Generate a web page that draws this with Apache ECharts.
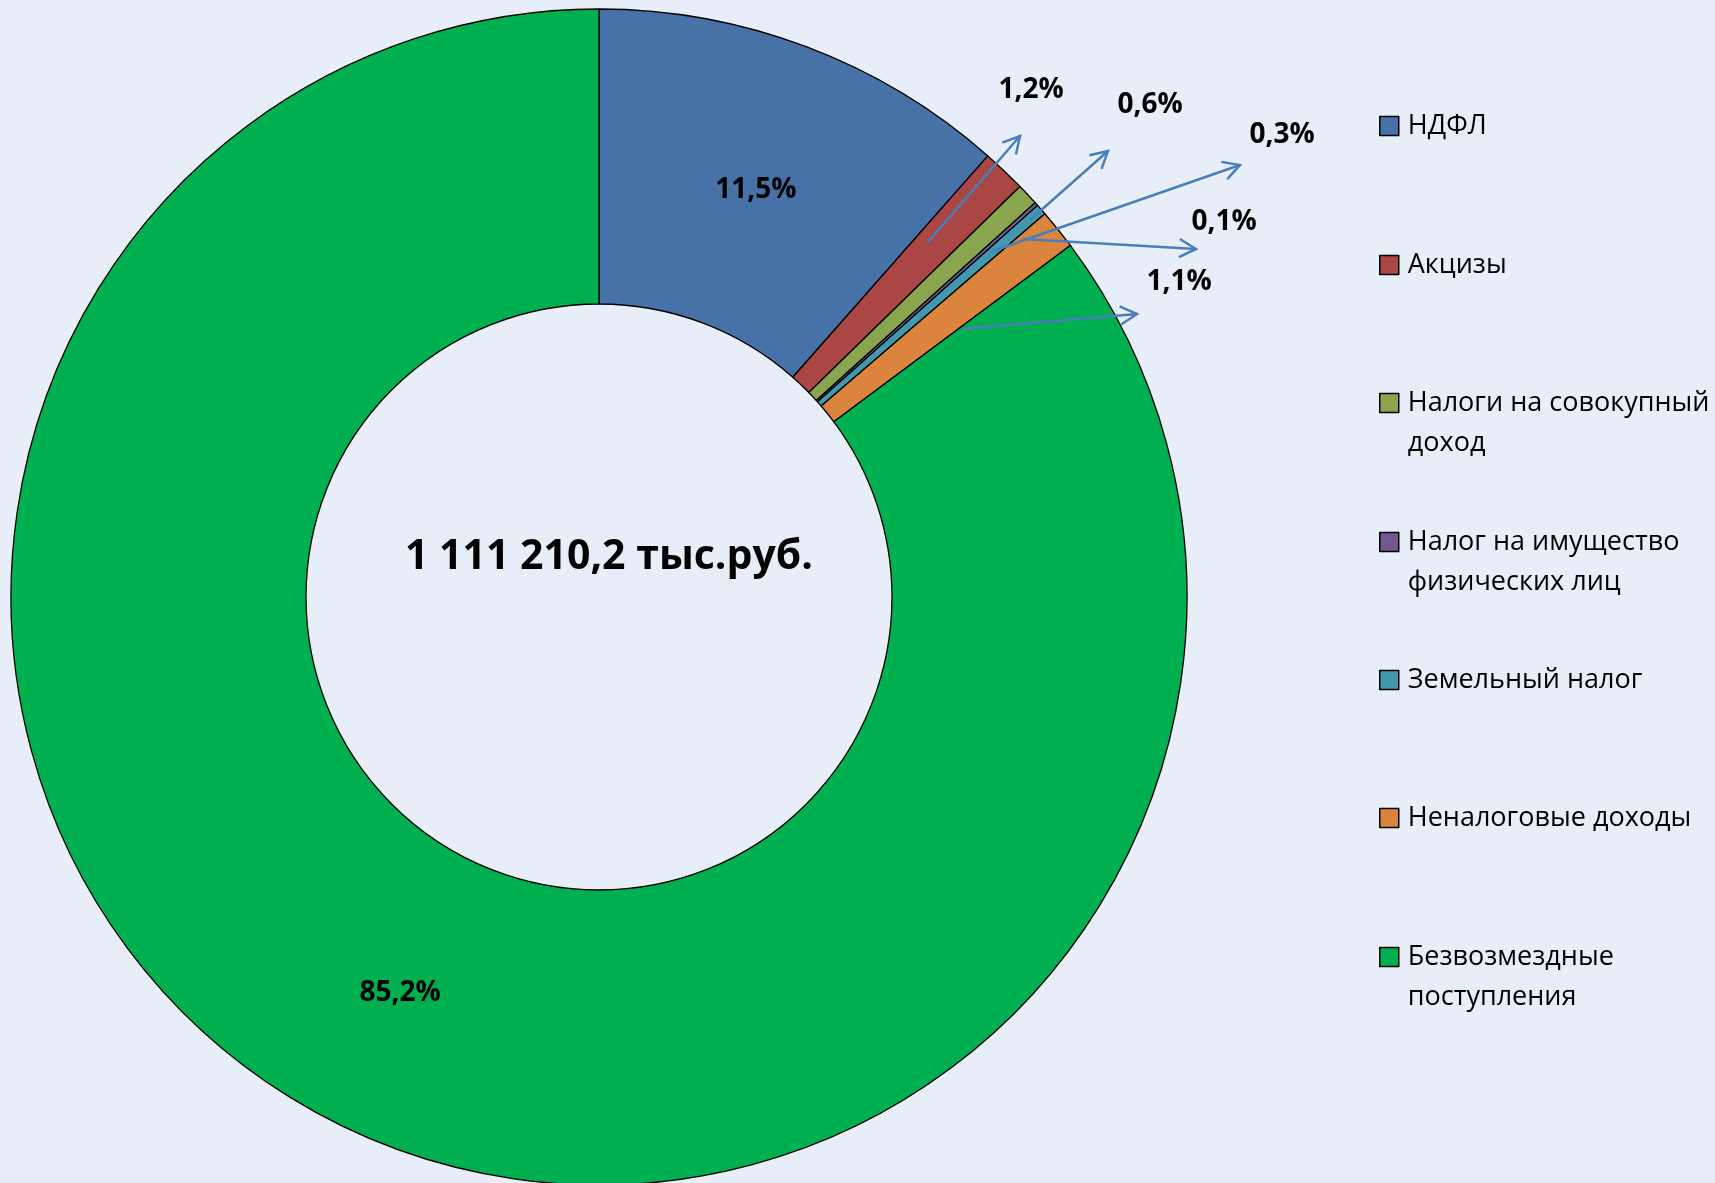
<!DOCTYPE html>
<html>
<head>
<meta charset="utf-8">
<script src="https://cdn.jsdelivr.net/npm/echarts@6/dist/echarts.min.js"></script>
<style>
  html, body { margin: 0; padding: 0; background: #E7EEF7; }
  #chart { width: 1715px; height: 1183px; }
</style>
</head>
<body>
<div id="chart"></div>
<script>
// структура доходов бюджета, %
const categories = [
  'НДФЛ',
  'Акцизы',
  'Налоги на совокупный доход',
  'Налог на имущество физических лиц',
  'Земельный налог',
  'Неналоговые доходы',
  'Безвозмездные поступления'
];
const shares = [11.5, 1.2, 0.6, 0.1, 0.3, 1.1, 85.2];
const totalText = '1 111 210,2 тыс.руб.';

const colors = ['#4672A7', '#AA4643', '#89A54E', '#71588F', '#4198AF', '#DB843D', '#00B050'];

// подписи мелких секторов вынесены наружу, со стрелками
const outerLabelPos = { 1: [1031, 90], 2: [1150, 105], 3: [1224, 222], 4: [1282, 135], 5: [1179, 282] };
const arrows = [
  [928, 242, 1020, 136],
  [1030, 220, 1108, 151],
  [990, 252, 1240, 165],
  [1023, 239, 1196, 249],
  [962, 329, 1137, 314]
];
const legendCenters = [126, 265, 403, 542, 680, 818, 957];
const legendWrap = {
  'Налоги на совокупный доход': 'Налоги на совокупный\nдоход',
  'Налог на имущество физических лиц': 'Налог на имущество\nфизических лиц',
  'Безвозмездные поступления': 'Безвозмездные\nпоступления'
};

const chart = echarts.init(document.getElementById('chart'));

function fmt(v) {
  return String(v).replace('.', ',') + '%';
}

function arrowShapes(a) {
  const [x1, y1, x2, y2] = a;
  const ang = Math.atan2(y2 - y1, x2 - x1);
  const len = 19, spread = 0.5;
  const w1 = [x2 - len * Math.cos(ang - spread), y2 - len * Math.sin(ang - spread)];
  const w2 = [x2 - len * Math.cos(ang + spread), y2 - len * Math.sin(ang + spread)];
  const style = { stroke: '#4A7EBB', lineWidth: 2.5, fill: null };
  return [
    { type: 'polyline', z: 10, shape: { points: [[x1, y1], [x2, y2]] }, style: style },
    { type: 'polyline', z: 10, shape: { points: [w1, [x2, y2], w2] }, style: style }
  ];
}

const graphics = [];
arrows.forEach(a => graphics.push(...arrowShapes(a)));
graphics.push({
  type: 'text',
  z: 10,
  x: 609,
  y: 557,
  style: {
    text: totalText,
    fill: '#000',
    font: 'bold 41px "Open Sans"',
    align: 'center',
    verticalAlign: 'middle'
  }
});

// текст легенды центрируется по значку, поэтому для двух строк добавляем пустую строку сверху
const legends = categories.map((name, i) => {
  const twoLines = !!legendWrap[name];
  return {
    orient: 'vertical',
    left: 1379,
    top: legendCenters[i] - (twoLines ? 60 : 20),
    padding: 0,
    itemWidth: 19,
    itemHeight: 19,
    icon: 'rect',
    data: [name],
    formatter: n => legendWrap[n] ? ' \n' + legendWrap[n] : n,
    itemStyle: { borderColor: '#000', borderWidth: 1.5 },
    textStyle: {
      fontFamily: 'Open Sans',
      fontSize: 27,
      color: '#000',
      lineHeight: 40,
      padding: [0, 0, 0, 4]
    }
  };
});

const option = {
  backgroundColor: '#E7EEF7',
  animation: false,
  color: colors,
  legend: legends,
  graphic: graphics,
  series: [{
    type: 'pie',
    center: [599, 597],
    radius: [293, 588],
    startAngle: 90,
    clockwise: true,
    avoidLabelOverlap: false,
    itemStyle: { borderColor: '#000', borderWidth: 1.3 },
    emphasis: { disabled: true },
    label: {
      show: true,
      position: 'inside',
      formatter: p => fmt(p.value),
      color: '#000',
      fontFamily: 'Open Sans',
      fontWeight: 'bold',
      fontSize: 28
    },
    labelLine: { show: false },
    labelLayout: p => {
      const pos = outerLabelPos[p.dataIndex];
      if (!pos) return p.dataIndex === 0 ? { dy: 8 } : {};
      return { x: pos[0], y: pos[1], align: 'center', verticalAlign: 'middle' };
    },
    data: categories.map((name, i) => ({
      name: name,
      value: shares[i],
      label: outerLabelPos[i] ? { position: 'outside' } : undefined
    }))
  }]
};

chart.setOption(option);
</script>
</body>
</html>
